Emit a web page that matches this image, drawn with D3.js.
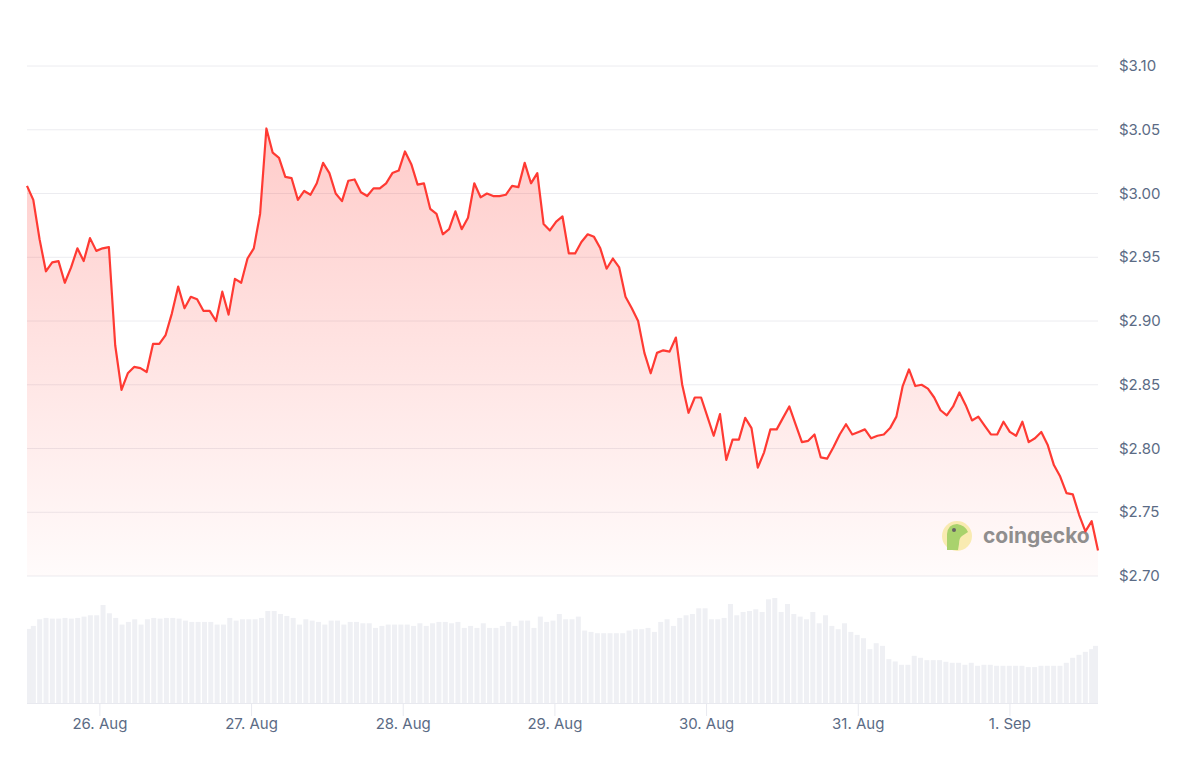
<!DOCTYPE html>
<html><head><meta charset="utf-8">
<script src="https://cdn.jsdelivr.net/npm/d3@7"></script>
<style>body{margin:0;background:#fff;font-family:Inter,"Noto Sans",sans-serif}</style>
</head><body><svg id="c" width="1200" height="757"></svg>
<script>
const startTime = new Date(2024,7,25,12,28);
const endTime = new Date(2024,8,1,13,56);
const prices = [3.006,2.995,2.964,2.939,2.946,2.947,2.930,2.942,2.957,2.947,2.965,2.955,2.957,2.958,2.881,2.846,2.859,2.864,2.863,2.860,2.882,2.882,2.889,2.906,2.927,2.910,2.919,2.917,2.908,2.908,2.900,2.923,2.905,2.933,2.930,2.949,2.957,2.984,3.051,3.032,3.028,3.013,3.012,2.995,3.002,2.999,3.008,3.024,3.016,3.000,2.994,3.010,3.011,3.001,2.998,3.004,3.004,3.008,3.016,3.018,3.033,3.023,3.007,3.008,2.988,2.984,2.968,2.972,2.986,2.972,2.981,3.008,2.997,3.000,2.998,2.998,2.999,3.006,3.005,3.024,3.008,3.016,2.976,2.971,2.978,2.982,2.953,2.953,2.962,2.968,2.966,2.957,2.941,2.949,2.942,2.919,2.910,2.900,2.875,2.859,2.875,2.877,2.876,2.887,2.850,2.828,2.840,2.840,2.825,2.810,2.827,2.791,2.807,2.807,2.824,2.816,2.785,2.797,2.815,2.815,2.824,2.833,2.819,2.805,2.806,2.811,2.793,2.792,2.801,2.811,2.819,2.811,2.813,2.815,2.808,2.810,2.811,2.816,2.825,2.849,2.862,2.849,2.850,2.847,2.840,2.830,2.826,2.833,2.844,2.834,2.822,2.825,2.818,2.811,2.811,2.821,2.813,2.810,2.821,2.805,2.808,2.813,2.803,2.787,2.778,2.765,2.764,2.748,2.735,2.743,2.720];
const volTops = [117,108,88,84,86,86,84,86,84,80,76,76,45,70,84,104,96,88,104,88,84,86,84,84,86,92,96,96,96,96,104,104,84,92,88,88,88,84,63,63,72,78,84,104,88,92,96,104,92,92,104,96,96,100,100,114,108,104,104,104,104,108,100,108,100,96,96,100,96,114,108,114,100,114,114,108,96,108,92,92,114,80,96,92,72,88,88,80,122,126,130,130,130,130,130,122,118,118,114,126,96,88,108,84,76,72,55,55,88,88,84,42,76,66,63,58,66,28,24,66,42,72,80,88,66,100,76,108,118,100,126,135,145,178,160,168,208,215,225,225,198,204,211,211,211,216,219,219,225,219,228,225,225,228,228,228,228,228,232,232,228,228,228,228,219,204,195,186,178,168];
const volumes = volTops.map(t => 340 - t); // relative volume units
const priceTicks = [2.70,2.75,2.80,2.85,2.90,2.95,3.00,3.05,3.10];
const dayTicks = [new Date(2024,7,26),new Date(2024,7,27),new Date(2024,7,28),new Date(2024,7,29),new Date(2024,7,30),new Date(2024,7,31),new Date(2024,8,1)];
const dayLabels = ["26. Aug","27. Aug","28. Aug","29. Aug","30. Aug","31. Aug","1. Sep"];

const svg = d3.select("#c");
const x = d3.scaleTime().domain([startTime,endTime]).range([27,1098]);
const y = d3.scaleLinear().domain([2.70,3.10]).range([576,66]);
const yv = d3.scaleLinear().domain([0,d3.max(volumes)]).range([703,598]);
const tPrice = i => new Date(+startTime + i*(endTime-startTime)/(prices.length-1));
const tVol = i => new Date(+startTime + i*(endTime-startTime)/(volumes.length-1));

const defs = svg.append("defs");
const g = defs.append("linearGradient").attr("id","fill").attr("x1",0).attr("x2",0).attr("y1",0).attr("y2",1)
  .attr("gradientUnits","userSpaceOnUse").attr("y1",y(3.05)).attr("y2",576);
g.append("stop").attr("offset",0).attr("stop-color","#ff3a33").attr("stop-opacity",0.26);
g.append("stop").attr("offset",1).attr("stop-color","#ff3a33").attr("stop-opacity",0.02);

svg.append("g").selectAll("line").data(priceTicks).join("line")
  .attr("x1",27).attr("x2",1098).attr("y1",d=>y(d)).attr("y2",d=>y(d))
  .attr("stroke","#ececf0").attr("stroke-width",1);
svg.append("g").selectAll("text").data(priceTicks).join("text")
  .attr("x",1119).attr("y",d=>y(d)+5).attr("font-size",15).attr("fill","#5b6b85")
  .text(d=>"$"+d.toFixed(2));

// volume
const bw = (x(endTime)-x(startTime))/volumes.length - 1.3;
svg.append("g").selectAll("rect").data(volumes).join("rect")
  .attr("x",(d,i)=>x(tVol(i))-bw/2+ (i===0?bw/2:0) - (i===volumes.length-1?bw/2:0))
  .attr("width",bw).attr("y",d=>yv(d)).attr("height",d=>703-yv(d)).attr("fill","#eff0f4");
svg.append("line").attr("x1",27).attr("x2",1098).attr("y1",703.5).attr("y2",703.5).attr("stroke","#e8e9ef");
svg.append("g").selectAll("line").data(dayTicks).join("line")
  .attr("x1",d=>x(d)).attr("x2",d=>x(d)).attr("y1",703).attr("y2",716).attr("stroke","#e8e9ef");
svg.append("g").selectAll("text").data(dayTicks).join("text")
  .attr("x",d=>x(d)).attr("y",729).attr("text-anchor","middle").attr("font-size",15).attr("fill","#5b6b85")
  .text((d,i)=>dayLabels[i]);

const area = d3.area().x((d,i)=>x(tPrice(i))).y0(576).y1(d=>y(d));
svg.append("path").datum(prices).attr("d",area).attr("fill","url(#fill)");

// watermark
const wm = svg.append("g").attr("opacity",0.75);
wm.append("circle").attr("cx",957).attr("cy",536).attr("r",15).attr("fill","#f8e79a");
wm.append("path").attr("d","M947,550 L947,534 Q948,524 957,524 Q965,525 968,532 L962,536 Q959,538 959,544 L958,550 Z").attr("fill","#8dc63f");
wm.append("circle").attr("cx",954).attr("cy",530).attr("r",2).attr("fill","#333");
wm.append("text").attr("x",983).attr("y",543).attr("font-size",21).attr("font-weight",700)
  .attr("fill","#6b6b6b").text("coingecko");

const line = d3.line().x((d,i)=>x(tPrice(i))).y(d=>y(d));
svg.append("path").datum(prices).attr("d",line).attr("fill","none")
  .attr("stroke","#ff3a33").attr("stroke-width",2.2).attr("stroke-linejoin","round");
</script></body></html>
